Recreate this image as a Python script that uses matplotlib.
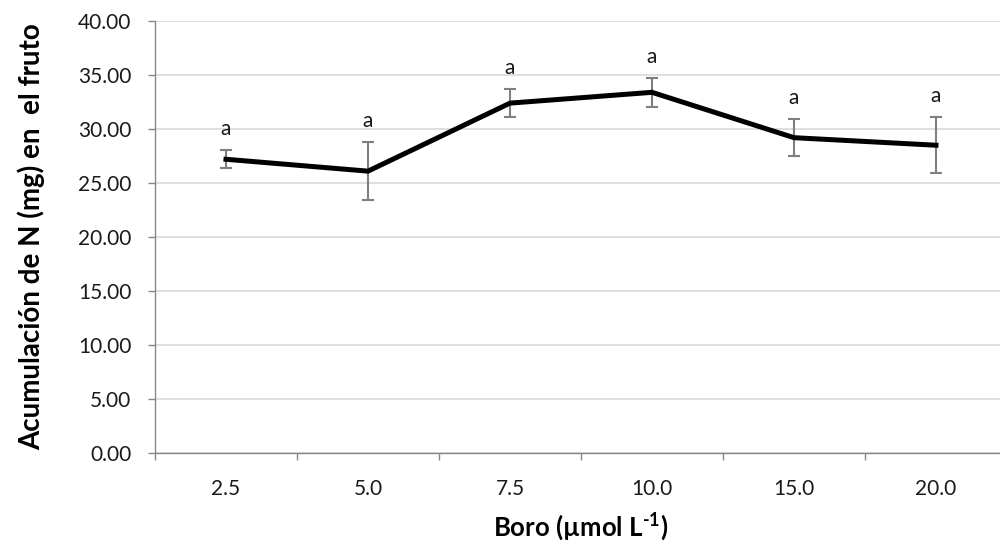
import matplotlib
matplotlib.use("Agg")
import matplotlib.pyplot as plt
import numpy as np

categories = ["2.5", "5.0", "7.5", "10.0", "15.0", "20.0"]
values = [27.2, 26.1, 32.4, 33.4, 29.2, 28.5]
errors = [0.85, 2.7, 1.3, 1.35, 1.7, 2.6]
letters = ["a", "a", "a", "a", "a", "a"]
yticks = [0, 5, 10, 15, 20, 25, 30, 35, 40]

plt.rcParams['font.family'] = ['Lato', 'DejaVu Sans']
plt.rcParams['mathtext.fontset'] = 'custom'
plt.rcParams['mathtext.rm'] = 'Lato:bold'
plt.rcParams['mathtext.bf'] = 'Lato:bold'

fig = plt.figure(figsize=(10, 5.44), dpi=100)
ax = fig.add_axes([0.155, 0.1673, 0.852, 0.794])

x = np.arange(len(categories))
ax.errorbar(x, values, yerr=errors, fmt='none', ecolor='#7f7f7f', elinewidth=1.5,
            capsize=4.5, capthick=1.5, zorder=3)
ax.plot(x, values, color='black', linewidth=3.6, zorder=4, solid_joinstyle='miter')

for xi, v, e, t in zip(x, values, errors, letters):
    ax.annotate(t, (xi, v + e), xytext=(0, 8), textcoords='offset points',
                ha='center', va='bottom', fontsize=15, color='#1a1a1a')

ax.set_xlim(-0.5, len(categories) - 0.5)
ax.set_ylim(0, 40)
ax.set_yticks(yticks)
ax.set_yticklabels([f"{v:.2f}" for v in yticks])
ax.set_xticks(x)
ax.set_xticklabels(categories)
ax.set_xticks(np.arange(-0.5, len(categories), 1.0), minor=True)
ax.tick_params(axis='x', which='major', length=0, pad=19, labelsize=15, colors='#1a1a1a')
ax.tick_params(axis='x', which='minor', length=5, color='#888888', width=1)
ax.tick_params(axis='y', length=5, color='#888888', width=1, labelsize=15, colors='#1a1a1a', pad=12)
ax.yaxis.grid(True, color='#d9d9d9', linewidth=1.2)
ax.set_axisbelow(True)
for s in ['top', 'right']:
    ax.spines[s].set_visible(False)
for s in ['left', 'bottom']:
    ax.spines[s].set_color('#888888')
    ax.spines[s].set_linewidth(1)

ax.set_xlabel(r'Boro (µmol L$^{\text{-1}}$)', fontsize=18.5, fontweight='bold', labelpad=8)
ax.set_ylabel('Acumulación de N (mg) en  el fruto', fontsize=20, fontweight='bold', labelpad=24)

fig.savefig('out.png', dpi=100)
